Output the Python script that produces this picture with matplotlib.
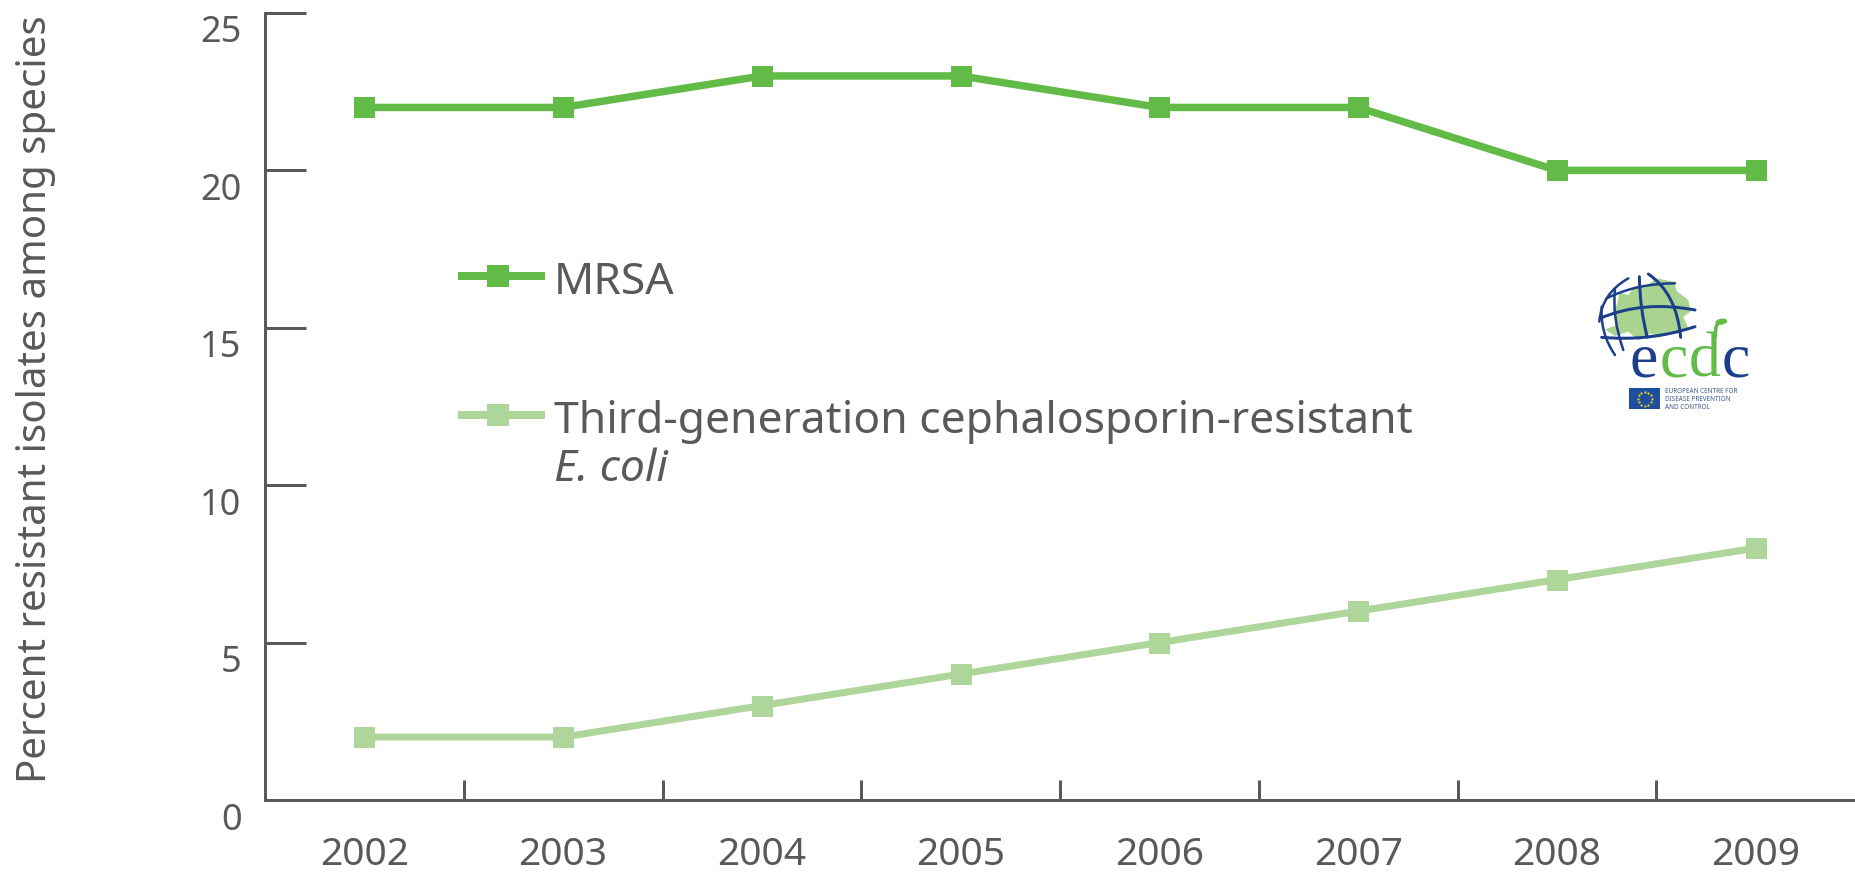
#!/usr/bin/env python3
"""Percent resistant isolates among species, 2002-2009 (ECDC)."""

import numpy as np
import matplotlib
matplotlib.use("Agg")
import matplotlib.pyplot as plt
from matplotlib.patches import Ellipse, PathPatch, Polygon, Rectangle
from matplotlib.path import Path
from matplotlib.transforms import ScaledTranslation

# --- Data ---
years = ["2002", "2003", "2004", "2005", "2006", "2007", "2008", "2009"]
mrsa = [22, 22, 23, 23, 22, 22, 20, 20]
ecoli = [2, 2, 3, 4, 5, 6, 7, 8]
y_ticks = [0, 5, 10, 15, 20, 25]

ylabel = "Percent resistant isolates among species"
mrsa_label = "MRSA"
ecoli_label = "Third-generation cephalosporin-resistant"
ecoli_label2 = "E. coli"

# --- Style ---
W, H = 1856, 880
DPI = 100
PX = 72 / DPI  # one pixel in points
DARK = "#58595b"
GREEN = "#62bb46"
LIGHT = "#aed69a"
NAVY = "#1c3f8c"
LOGO_GREEN = "#a9d48f"

plt.rcParams["font.family"] = ["Noto Sans", "DejaVu Sans"]

fig = plt.figure(figsize=(W / DPI, H / DPI), dpi=DPI)
ax = fig.add_axes([265 / W, (H - 800) / H, (1855 - 265) / W, (800 - 13) / H])

x = np.arange(len(years))
ax.plot(x, ecoli, color=LIGHT, lw=7 * PX, marker="s", ms=21 * PX, mew=0)
ax.plot(x, mrsa, color=GREEN, lw=7.5 * PX, marker="s", ms=21 * PX, mew=0)

ax.set_xlim(-0.5, len(years) - 0.5)
ax.set_ylim(0, 25)

for side in ["top", "right"]:
    ax.spines[side].set_visible(False)
for side in ["left", "bottom"]:
    ax.spines[side].set_color(DARK)
    ax.spines[side].set_linewidth(3 * PX)

# years sit between the ticks, ticks point into the plot
ax.set_xticks(x)
ax.set_xticklabels(years, fontsize=28, color=DARK)
ax.tick_params(axis="x", which="major", length=0, pad=26)
ax.set_xticks(x[:-1] + 0.5, minor=True)
ax.tick_params(axis="x", which="minor", direction="in", length=20 * PX,
               width=3 * PX, color=DARK)

ax.set_yticks(y_ticks)
ax.set_yticklabels(y_ticks, fontsize=26, color=DARK)
ax.tick_params(axis="y", direction="in", length=41 * PX, width=3 * PX,
               color=DARK, pad=17)
# y labels hang a little under their ticks in the original
for lab in ax.get_yticklabels():
    lab.set_transform(lab.get_transform() + ScaledTranslation(0, -16 / DPI, fig.dpi_scale_trans))

# --- Overlay in pixel coordinates for legend, y title and logo ---
ov = fig.add_axes([0, 0, 1, 1], facecolor="none")
ov.set_xlim(0, W)
ov.set_ylim(H, 0)
ov.axis("off")

ov.text(36, 399, ylabel, rotation=90, ha="center", va="center", fontsize=29,
        color=DARK)

ov.plot([462, 541], [276, 276], color=GREEN, lw=8 * PX)
ov.plot([498], [276], color=GREEN, marker="s", ms=23 * PX, mew=0)
ov.plot([462, 541], [415, 415], color=LIGHT, lw=8 * PX)
ov.plot([498], [415], color=LIGHT, marker="s", ms=23 * PX, mew=0)
ov.text(554, 283, mrsa_label, fontsize=32, color=DARK, va="center")
ov.text(554, 422, ecoli_label, fontsize=32, color=DARK, va="center")
ov.text(554, 470, ecoli_label2, fontsize=32, color=DARK, va="center", style="italic")


# --- ECDC logo, points given as zoom coordinates of the logo crop ---
def lx(v):
    return 1560 + v / 3


def ly(v):
    return 250 + v / 3


def curve(p0, p1, p2, lw, color=NAVY):
    verts = [(lx(a), ly(b)) for a, b in (p0, p1, p2)]
    ov.add_patch(PathPatch(Path(verts, [Path.MOVETO, Path.CURVE3, Path.CURVE3]),
                           fc="none", ec=color, lw=lw * PX, capstyle="round"))


blob = [(135, 238), (168, 226), (160, 190), (172, 160), (178, 128), (205, 135),
        (225, 108), (255, 112), (290, 85), (340, 95), (352, 125), (385, 150),
        (392, 185), (370, 200), (385, 235), (330, 250), (300, 262), (270, 250),
        (235, 272), (205, 245), (165, 258)]
ov.add_patch(Polygon([(lx(a), ly(b)) for a, b in blob], fc=LOGO_GREEN, ec="none"))

curve((120, 205), (250, 150), (405, 180), 3)
curve((125, 262), (270, 275), (405, 230), 3)
curve((140, 145), (230, 100), (345, 100), 2.5)
curve((118, 215), (125, 130), (205, 85), 2.5)
curve((125, 170), (120, 250), (165, 315), 2.5)
curve((165, 120), (155, 200), (190, 300), 2.5)
curve((238, 80), (240, 180), (262, 262), 3)
curve((265, 72), (350, 130), (362, 262), 3)

for ch, cx, col in [("e", 252, NAVY), ("c", 340, GREEN), ("d", 433, GREEN), ("c", 527, NAVY)]:
    ov.text(lx(cx), ly(380), ch, family="Liberation Serif", fontsize=46, color=col,
            ha="center", va="baseline")
curve((467, 258), (462, 212), (495, 214), 3.5, GREEN)
ov.add_patch(Ellipse((lx(484), ly(215)), 12, 6, angle=-10, fc=GREEN, ec="none"))

ov.add_patch(Rectangle((lx(208), ly(415)), 92 / 3, 63 / 3, fc="#1f4e9c", ec="none"))
ang = np.linspace(0, 2 * np.pi, 12, endpoint=False)
ov.scatter(lx(254) + 7 * np.cos(ang), ly(446) + 7 * np.sin(ang), s=2.5, color="#f2d21c",
           linewidths=0)
for txt, yy in [("EUROPEAN CENTRE FOR", 425), ("DISEASE PREVENTION", 449), ("AND CONTROL", 472)]:
    ov.text(lx(316), ly(yy), txt, fontsize=4.6, color="#3d5a8f", va="center")

fig.savefig("out.png", dpi=DPI, facecolor="white")
